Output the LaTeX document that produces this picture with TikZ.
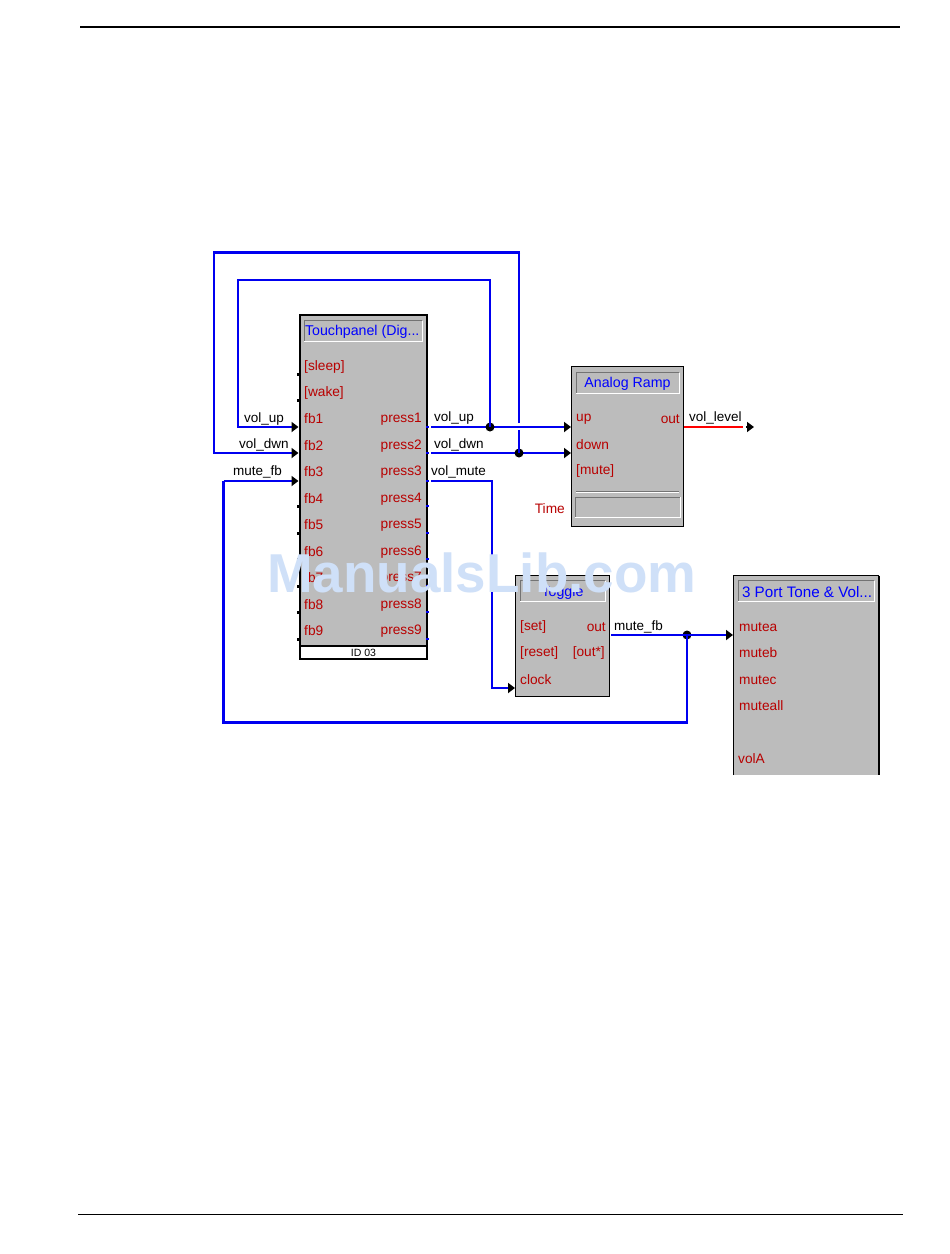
\documentclass[tikz,border=0pt]{standalone}
\usepackage{fontspec}
\setmainfont{Liberation Sans}
\usetikzlibrary{calc,arrows.meta}
\definecolor{blockgray}{HTML}{BCBCBC}
\definecolor{portred}{HTML}{B80000}
\definecolor{wireblue}{HTML}{0000F0}
\definecolor{markblue}{HTML}{CFE0F8}
\tikzset{
  wire/.style={line width=2pt, draw=wireblue},
  widewire/.style={line width=3pt, draw=wireblue, shorten <=-1pt},
  feed/.style={wire, -{Triangle[length=7pt,width=10pt,black]}},
  block/.style={draw, fill=blockgray, line width=1pt, anchor=north west, inner sep=0pt, outer sep=0pt},
  titlebox/.style={anchor=north west, inner sep=0pt, outer sep=0pt, text=blue, font=\fontsize{14.2}{16}\selectfont},
  port/.style={text=portred, inner sep=0pt, anchor=west, yshift=-1pt, font=\fontsize{13.7}{15}\selectfont},
  rport/.style={port, anchor=east},
  netlabel/.style={text=black, inner sep=0pt, anchor=west, yshift=-1pt, font=\fontsize{13.5}{15}\selectfont},
  jdot/.style={circle, fill=black, inner sep=0pt, minimum size=9pt},
  pinl/.style={fill=black, inner sep=0pt, minimum size=3pt},
  pinr/.style={fill=wireblue, inner sep=0pt, minimum size=2.5pt}
}
% sunken frame round a named node
\newcommand{\sunkenframe}[1]{
  \draw[line width=1pt, draw=gray!90!black] (#1.south west) |- (#1.north east);
  \draw[line width=1pt, draw=white] (#1.south west) -| (#1.north east);
}
% heavy right and bottom edge of a block
\newcommand{\heavyedge}[1]{
  \draw[line width=2pt] (#1.north east) -- (#1.south east) -- (#1.south west);
}
\begin{document}
\begin{tikzpicture}[x=1pt,y=-1pt]
  \useasboundingbox (0,0) rectangle (950,1254);
  \fill[white] (0,0) rectangle (950,1254);
  % page rules
  \coordinate (topl) at (80,27);
  \coordinate (topr) at (900,27);
  \coordinate (botl) at (78,1214);
  \coordinate (botr) at (903,1214);
  \draw[line width=2pt] (topl) -- (topr);
  \draw[line width=0.9pt] (botl) -- (botr);

  % touchpanel
  \node[block, line width=1.3pt, minimum width=127pt, minimum height=344pt] (touch) at (300,315) {};
  \node[block, fill=white, line width=1.3pt, minimum width=127pt, minimum height=13pt,
        font=\fontsize{10.5}{12}\selectfont] (touchid) at (300,646) {ID 03};
  \heavyedge{touch}
  \node[titlebox, minimum width=118pt, minimum height=21pt] (touchtitle) at (304,320.5) {};
  \sunkenframe{touchtitle}
  \node[titlebox, anchor=west] (touchname) at (305,332) {Touchpanel (Dig...};
  \node[port] (sleep) at (304,366) {[sleep]};
  \node[port] (wake) at (304,392) {[wake]};
  \foreach \i/\y in {1/418,2/445,3/471,4/498,5/524,6/551,7/577,8/604,9/630}{
    \node[port] (fb\i) at (304,\y) {fb\i};
    \node[rport] (press\i) at (422,\y) {press\i};
  }
  % pins of the touchpanel
  \foreach \i/\y in {1/427,2/453,3/481,4/506,5/533,6/559,7/586,8/612,9/639}{
    \coordinate (fbin\i) at (298.5,\y);
    \coordinate (pressout\i) at (431,\y);
    \node[pinr] (pressdot\i) at (427.5,\y) {};
  }
  \foreach \i in {4,...,9}{\node[pinl] (fbdot\i) at (fbin\i) {};}
  \node[pinl] (sleepdot) at (298.5,374) {};
  \node[pinl] (wakedot) at (298.5,400) {};

  % analog ramp
  \node[block, minimum width=112pt, minimum height=160pt] (ramp) at (571.5,366.5) {};
  \node[titlebox, minimum width=103pt, minimum height=21pt] (ramptitle) at (576,372.5) {};
  \sunkenframe{ramptitle}
  \node[titlebox, anchor=center, yshift=-1pt] (rampname) at (ramptitle) {Analog Ramp};
  \node[port] (up) at (576,418) {up};
  \node[port] (down) at (576,444) {down};
  \node[port] (mute) at (576,470) {[mute]};
  \node[rport] (rampout) at (680,418) {out};
  \node[rport] (time) at (565,508) {Time};
  \node[titlebox, minimum width=105pt, minimum height=20pt] (timebox) at (575,497) {};
  \sunkenframe{timebox}
  \coordinate (sepl) at (576,491);
  \coordinate (sepr) at (679,491);
  \draw[line width=1pt, draw=gray!90!black] (sepl) -- (sepr);
  \draw[line width=0.8pt, draw=white] ($(sepl)+(0,1)$) -- ($(sepr)+(0,1)$);
  \coordinate (upin) at (571,427);
  \coordinate (downin) at (571,453);

  % toggle
  \node[block, minimum width=94pt, minimum height=121pt] (toggle) at (515.5,575.5) {};
  \draw[line width=1.3pt] (toggle.north east) -- (toggle.south east) -- (toggle.south west);
  \node[titlebox, minimum width=85pt, minimum height=21pt] (toggletitle) at (520,580.5) {};
  \sunkenframe{toggletitle}
  \node[titlebox, anchor=center, yshift=-2pt] (togglename) at (toggletitle) {Toggle};
  \node[port] (set) at (520,626) {[set]};
  \node[port] (reset) at (520,652) {[reset]};
  \node[port] (clock) at (520,679) {clock};
  \node[rport] (togout) at (606,626) {out};
  \node[rport] (togoutb) at (605,652) {[out*]};
  \coordinate (clockin) at (515,688);
  \coordinate (togpin) at (611,635);

  % tone and volume, cut off at the bottom
  \node[block, draw=none, minimum width=145.5pt, minimum height=199.5pt] (tone) at (733.5,575.5) {};
  \draw[line width=1pt] (tone.south west) |- (tone.north east);
  \draw[line width=2pt] (tone.north east) -- (tone.south east);
  \node[titlebox, minimum width=136pt, minimum height=21pt] (tonetitle) at (738,580.5) {};
  \sunkenframe{tonetitle}
  \node[titlebox, anchor=west, font=\fontsize{15.2}{17}\selectfont] (tonename) at (742,592) {3 Port Tone \& Vol...};
  \node[port] (mutea) at (739,626) {mutea};
  \node[port] (muteb) at (739,652) {muteb};
  \node[port] (mutec) at (739,679) {mutec};
  \node[port] (muteall) at (739,705) {muteall};
  \node[port] (vola) at (738,758) {volA};
  \coordinate (muteain) at (733,635);

  % corners of the long loops
  \coordinate (looptop) at (214,252.5);
  \coordinate (loopin) at (238,280);
  \coordinate (loopbot) at (223.5,722.5);

  % wires
  \draw[feed] (pressout1) -- (upin);
  \draw[feed] (pressout2) -- (downin);
  \node[jdot] (jup) at (490,427) {};
  \node[jdot] (jdwn) at (519,453) {};
  \node[jdot] (jmute) at (687,635) {};
  \draw[feed] (jup.center) |- (loopin) |- (fbin1);
  \draw[wire] (jdwn.center) -- ($(jdwn |- jup)+(0,3)$);
  \draw[wire] ($(jdwn |- jup)+(0,-4)$) -- (jdwn |- looptop);
  \draw[widewire, shorten >=-1pt] (jdwn |- looptop) -- (looptop);
  \draw[feed] (looptop) |- (fbin2);
  \draw[feed] (pressout3) -| (492,688) -- (clockin);
  \draw[feed] (togpin) -- (muteain);
  \draw[wire] (jmute.center) -- (jmute |- loopbot);
  \draw[widewire] (jmute |- loopbot) -- (loopbot) -- (loopbot |- fbin3);
  \draw[feed] (loopbot |- fbin3) -- (fbin3);
  \coordinate (levelpin) at (684,427);
  \coordinate (levelend) at (743,427);
  \coordinate (levelin) at (754,427);
  \draw[wire, draw=red] (levelpin) -- (levelend);
  \draw[-{Triangle[length=7pt,width=10pt]}, line width=1.5pt] ($(levelend)+(3,0)$) -- (levelin);

  % net labels
  \node[netlabel] (lup) at (244,418) {vol\_up};
  \node[netlabel] (ldwn) at (239,444) {vol\_dwn};
  \node[netlabel] (lfb) at (233,471) {mute\_fb};
  \node[netlabel] (rup) at (434,417) {vol\_up};
  \node[netlabel] (rdwn) at (434,444) {vol\_dwn};
  \node[netlabel] (rmute) at (431,471) {vol\_mute};
  \node[netlabel] (llevel) at (689,417) {vol\_level};
  \node[netlabel] (lmute) at (614,626) {mute\_fb};

  % watermark
  \node[anchor=west, inner sep=0pt, text=markblue, font=\fontsize{54.8}{60}\selectfont\bfseries] (mark) at (267,573) {ManualsLib.com};
\end{tikzpicture}
\end{document}
